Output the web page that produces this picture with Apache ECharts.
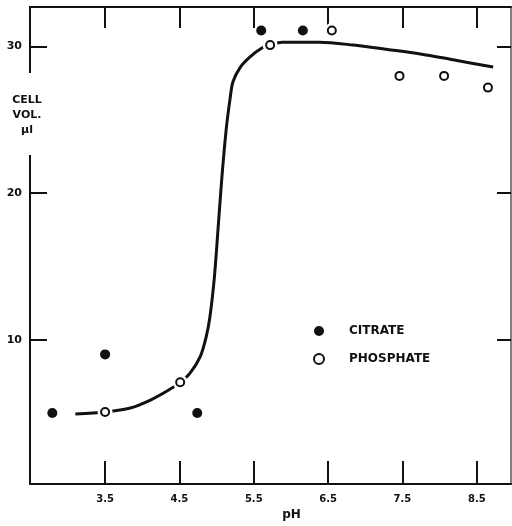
<!DOCTYPE html>
<html><head><meta charset="utf-8">
<script src="https://cdn.jsdelivr.net/npm/echarts@6/dist/echarts.min.js"></script>
<style>html,body{margin:0;padding:0;background:#fff}#c{width:512px;height:526px}</style>
</head><body><div id="c"></div>
<script>
// pH tick labels and y tick values
var xTicks = [3.5, 4.5, 5.5, 6.5, 7.5, 8.5];
var yTicks = [10, 20, 30];
// Citrate (filled circles): [pH, cell volume µl]
var citrate = [[2.79, 5.0], [3.5, 9.0], [4.74, 5.0], [5.60, 31.1], [6.16, 31.1]];
// Phosphate (open circles)
var phosphate = [[3.5, 5.07], [4.51, 7.1], [5.72, 30.1], [6.55, 31.1], [7.46, 28.0], [8.06, 28.0], [8.65, 27.2]];
// Fitted curve drawn by hand in the original
var curve = [[3.10, 4.93], [3.50, 5.07], [3.84, 5.34], [4.11, 5.88], [4.35, 6.55], [4.51, 7.09],
  [4.64, 7.70], [4.78, 8.85], [4.86, 10.2], [4.91, 11.55], [4.97, 14.26], [5.02, 17.6], [5.07, 21.0],
  [5.13, 24.4], [5.18, 26.4], [5.22, 27.6], [5.32, 28.6], [5.45, 29.3], [5.61, 29.9], [5.72, 30.1],
  [5.88, 30.3], [6.39, 30.3], [6.84, 30.1], [7.30, 29.8], [7.74, 29.5], [8.18, 29.1], [8.72, 28.6]];

var FONT = 'DejaVu Sans';
var chart = echarts.init(document.getElementById('c'), null, {renderer: 'canvas'});
var axLine = {show: true, lineStyle: {color: '#111', width: 2}};
chart.setOption({
  backgroundColor: '#fff',
  animation: false,
  grid: {left: 30, top: 7, width: 481, height: 482},
  xAxis: [{
    type: 'value', min: 2.49, max: 8.96, position: 'bottom',
    axisLine: axLine,
    axisTick: {show: true, inside: true, length: 23, lineStyle: {color: '#111', width: 2}, customValues: xTicks},
    axisLabel: {customValues: xTicks, formatter: function (v) { return v.toFixed(1); },
      color: '#111', fontFamily: FONT, fontWeight: 'bold', fontSize: 10, margin: 10},
    splitLine: {show: false},
    name: 'pH', nameLocation: 'middle', nameGap: 24,
    nameTextStyle: {color: '#111', fontFamily: FONT, fontWeight: 'bold', fontSize: 12, padding: [0, 0, 0, 42]}
  }, {
    type: 'value', min: 2.49, max: 8.96, position: 'top',
    axisLine: axLine,
    axisTick: {show: true, inside: true, length: 21, lineStyle: {color: '#111', width: 2}, customValues: xTicks},
    axisLabel: {show: false}, splitLine: {show: false}
  }],
  yAxis: [{
    type: 'value', min: 0.15, max: 32.7, position: 'left',
    axisLine: axLine,
    axisTick: {show: true, inside: true, length: 17, lineStyle: {color: '#111', width: 2}, customValues: yTicks},
    axisLabel: {customValues: yTicks, color: '#111', fontFamily: FONT, fontWeight: 'bold', fontSize: 11, margin: 8},
    splitLine: {show: false}
  }, {
    type: 'value', min: 0.15, max: 32.7, position: 'right',
    axisLine: {show: true, lineStyle: {color: '#555', width: 1.5}},
    axisTick: {show: true, inside: true, length: 14, lineStyle: {color: '#111', width: 2}, customValues: yTicks},
    axisLabel: {show: false}, splitLine: {show: false}
  }],
  legend: {
    data: [{name: 'CITRATE'}, {name: 'PHOSPHATE'}],
    orient: 'vertical', left: 308, top: 320, itemWidth: 10, itemHeight: 10, itemGap: 16,
    textStyle: {color: '#111', fontFamily: FONT, fontWeight: 'bold', fontSize: 12, padding: [0, 0, 0, 20]}
  },
  graphic: [
    {type: 'rect', z: 100, shape: {x: 24, y: 73, width: 12, height: 82}, style: {fill: '#fff'}},
    {type: 'text', z: 101, x: 27, y: 93,
      style: {text: 'CELL\nVOL.\nμl', fill: '#111', font: 'bold 11px "DejaVu Sans"', align: 'center', lineHeight: 15}}
  ],
  series: [{
    type: 'line', name: 'curve', data: curve, showSymbol: false, smooth: 0.3,
    lineStyle: {color: '#111', width: 3}, z: 2, silent: true
  }, {
    type: 'scatter', name: 'halo', data: phosphate, symbolSize: 15,
    itemStyle: {color: '#fff', opacity: 1}, z: 3, silent: true
  }, {
    type: 'scatter', name: 'CITRATE', data: citrate, symbol: 'circle', symbolSize: 10,
    itemStyle: {color: '#111', opacity: 1}, z: 4
  }, {
    type: 'scatter', name: 'PHOSPHATE', data: phosphate, symbol: 'circle', symbolSize: 8,
    itemStyle: {color: '#fff', borderColor: '#111', borderWidth: 2, opacity: 1}, z: 4
  }]
});
</script></body></html>
